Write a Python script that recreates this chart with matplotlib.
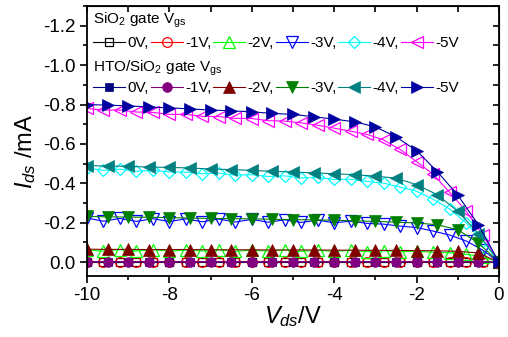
import numpy as np
import matplotlib
matplotlib.use('Agg')
import matplotlib.pyplot as plt
from matplotlib.ticker import MultipleLocator, FormatStrFormatter

plt.rcParams['font.family'] = ['Liberation Sans', 'DejaVu Sans']
plt.rcParams['mathtext.fontset'] = 'custom'
plt.rcParams['mathtext.rm'] = 'Liberation Sans'
plt.rcParams['mathtext.it'] = 'Liberation Sans:italic'
plt.rcParams['axes.unicode_minus'] = False

# drain voltage sweeps (SiO2 sampled every 0.4 V, HTO/SiO2 every 0.5 V)
vds_sio2 = [-10, -9.6, -9.2, -8.8, -8.4, -8.0, -7.6, -7.2, -6.8, -6.4, -6.0, -5.6, -5.2,
            -4.8, -4.4, -4.0, -3.6, -3.2, -2.8, -2.4, -2.0, -1.6, -1.2, -0.8, -0.4, 0]
vds_hto = [-10, -9.5, -9, -8.5, -8, -7.5, -7, -6.5, -6, -5.5, -5, -4.5, -4, -3.5,
           -3, -2.5, -2, -1.5, -1, -0.5, 0]

vgs_labels = ['0V,', '-1V,', '-2V,', '-3V,', '-4V,', '-5V']

# SiO2 gate, Ids (mA)
sio2_0v = [0.0] * 26
sio2_1v = [-0.002, -0.002, -0.002, -0.002, -0.002, -0.002, -0.002, -0.002, -0.002, -0.002,
           -0.002, -0.002, -0.002, -0.002, -0.002, -0.002, -0.002, -0.002, -0.002, -0.002,
           -0.002, -0.002, -0.002, -0.001, -0.001, 0.0]
sio2_2v = [-0.062, -0.056, -0.064, -0.057, -0.063, -0.056, -0.062, -0.057, -0.063, -0.055,
           -0.061, -0.056, -0.062, -0.055, -0.060, -0.055, -0.060, -0.054, -0.058, -0.053,
           -0.056, -0.050, -0.048, -0.040, -0.028, 0.0]
sio2_3v = [-0.224, -0.208, -0.222, -0.207, -0.221, -0.206, -0.220, -0.205, -0.219, -0.204,
           -0.217, -0.203, -0.215, -0.202, -0.213, -0.200, -0.208, -0.197, -0.193, -0.183,
           -0.176, -0.158, -0.138, -0.108, -0.062, 0.0]
sio2_4v = [-0.478, -0.466, -0.472, -0.461, -0.467, -0.458, -0.457, -0.449, -0.452, -0.442,
           -0.444, -0.435, -0.438, -0.427, -0.430, -0.420, -0.421, -0.410, -0.401, -0.381,
           -0.360, -0.320, -0.270, -0.200, -0.110, 0.0]
sio2_5v = [-0.780, -0.772, -0.772, -0.762, -0.760, -0.750, -0.750, -0.740, -0.739, -0.730,
           -0.729, -0.718, -0.716, -0.707, -0.695, -0.680, -0.665, -0.648, -0.620, -0.572,
           -0.510, -0.447, -0.355, -0.260, -0.140, 0.0]

# HTO/SiO2 gate, Ids (mA)
hto_0v = [-0.001] * 20 + [0.0]
hto_1v = [-0.002] * 20 + [0.0]
hto_2v = [-0.066, -0.065, -0.065, -0.064, -0.064, -0.064, -0.063, -0.063, -0.063, -0.062,
          -0.062, -0.062, -0.061, -0.061, -0.060, -0.060, -0.059, -0.058, -0.055, -0.047, 0.0]
hto_3v = [-0.232, -0.230, -0.229, -0.228, -0.226, -0.224, -0.222, -0.221, -0.220, -0.218,
          -0.216, -0.215, -0.213, -0.210, -0.207, -0.203, -0.199, -0.190, -0.165, -0.097, 0.0]
hto_4v = [-0.490, -0.488, -0.486, -0.483, -0.481, -0.478, -0.473, -0.470, -0.466, -0.461,
          -0.458, -0.453, -0.449, -0.444, -0.436, -0.427, -0.393, -0.343, -0.258, -0.145, 0.0]
hto_5v = [-0.800, -0.797, -0.793, -0.788, -0.783, -0.778, -0.772, -0.768, -0.763, -0.755,
          -0.750, -0.738, -0.726, -0.712, -0.687, -0.636, -0.566, -0.460, -0.340, -0.190, 0.0]

sio2_series = [sio2_0v, sio2_1v, sio2_2v, sio2_3v, sio2_4v, sio2_5v]
hto_series = [hto_0v, hto_1v, hto_2v, hto_3v, hto_4v, hto_5v]

sio2_colors = ['black', 'red', '#00ff00', 'blue', 'cyan', 'magenta']
hto_colors = ['#000080', '#800080', '#800000', '#008000', '#008080', '#0000a0']
sio2_markers = ['s', 'o', '^', 'v', 'D', '<']
hto_markers = ['s', 'o', '^', 'v', '<', '>']
sio2_sizes = [6, 7, 8, 8, 6, 8]
hto_sizes = [6, 7, 8, 8, 8, 8]

fig = plt.figure(figsize=(5.08, 3.37), dpi=100)
ax = fig.add_axes([87 / 508, 1 - 276 / 337, 412 / 508, 270 / 337])

sio2_lines = []
for y, c, m, ms in zip(sio2_series, sio2_colors, sio2_markers, sio2_sizes):
    ln, = ax.plot(vds_sio2, y, color=c, marker=m, ms=ms, mfc='none', mec=c,
                  mew=0.9, lw=0.8)
    sio2_lines.append(ln)

hto_lines = []
for y, c, m, ms in zip(hto_series, hto_colors, hto_markers, hto_sizes):
    ln, = ax.plot(vds_hto, y, color=c, marker=m, ms=ms, mfc=c, mec=c,
                  mew=0.5, lw=0.8)
    hto_lines.append(ln)

ax.set_xlim(-10, 0)
ax.set_ylim(0.07, -1.3)
ax.set_xticks([-10, -8, -6, -4, -2, 0])
ax.xaxis.set_minor_locator(MultipleLocator(1))
ax.xaxis.set_major_formatter(FormatStrFormatter('%d'))
ax.set_yticks([0.0, -0.2, -0.4, -0.6, -0.8, -1.0, -1.2])
ax.yaxis.set_minor_locator(MultipleLocator(0.1))
ax.yaxis.set_major_formatter(FormatStrFormatter('%.1f'))
ax.tick_params(which='both', direction='out', width=1.2, labelsize=13.5)
ax.tick_params(which='major', length=5, pad=3)
ax.tick_params(which='minor', length=3)
for sp in ax.spines.values():
    sp.set_linewidth(1.3)

# mirrored inward ticks on top and right
top = ax.secondary_xaxis('top')
top.set_xticks([-10, -8, -6, -4, -2, 0])
top.xaxis.set_minor_locator(MultipleLocator(1))
top.tick_params(which='both', direction='in', length=4, width=1.2, labeltop=False)
right = ax.secondary_yaxis('right')
right.set_yticks([0.0, -0.2, -0.4, -0.6, -0.8, -1.0, -1.2])
right.yaxis.set_minor_locator(MultipleLocator(0.1))
right.tick_params(which='both', direction='in', length=4, width=1.2, labelright=False)

ax.set_xlabel(r'$V_{ds}$/V', fontsize=17)
ax.xaxis.set_label_coords(0.5, -0.105)
ax.set_ylabel(r'$I_{ds}$ /mA', fontsize=17)
ax.yaxis.set_label_coords(-0.118, 0.46)

# legend: two titled rows
fig.text(93 / 508, 1 - 20 / 337, r'SiO$_2$ gate V$_{\mathrm{gs}}$', fontsize=11,
         ha='left', va='center')
fig.text(93 / 508, 1 - 68 / 337, r'HTO/SiO$_2$ gate V$_{\mathrm{gs}}$', fontsize=11,
         ha='left', va='center')
leg_kw = dict(ncol=6, frameon=False, fontsize=11, handlelength=2.1,
              handletextpad=0.15, columnspacing=0.12, borderpad=0, borderaxespad=0,
              numpoints=1, loc='center left', bbox_transform=fig.transFigure)
leg1 = ax.legend(sio2_lines, vgs_labels, bbox_to_anchor=(93 / 508, 1 - 43 / 337), **leg_kw)
ax.add_artist(leg1)
leg2 = ax.legend(hto_lines, vgs_labels, bbox_to_anchor=(93 / 508, 1 - 88 / 337), **leg_kw)

fig.savefig('out.png', dpi=100)
